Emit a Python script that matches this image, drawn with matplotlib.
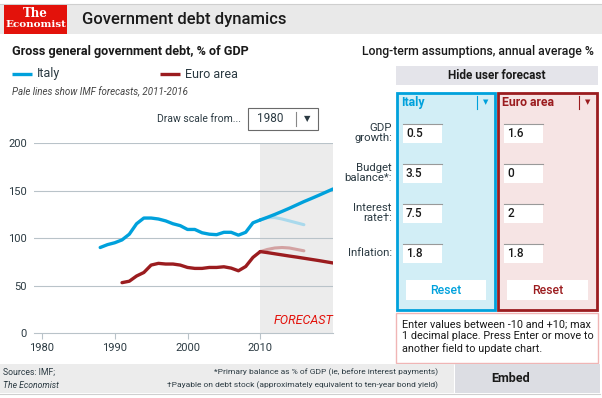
import matplotlib
matplotlib.use("Agg")
from matplotlib import pyplot as plt
from matplotlib.patches import Rectangle

plt.rcParams['font.family'] = ['Roboto', 'DejaVu Sans']

# debt, % of GDP
italy_years = list(range(1988, 2011))
italy_debt = [90, 93, 95, 98, 104, 115, 121, 121, 120, 118, 115, 113, 109,
              109, 105.5, 104, 103.5, 106, 106, 103, 106, 116, 119]
euro_years = list(range(1991, 2011))
euro_debt = [53, 54.5, 60, 63.7, 71.5, 73.3, 72.6, 72.6, 71.5, 69, 68, 68,
             69, 69, 69.7, 68.3, 65.5, 70, 79.6, 85.7]

# user forecast (2010-2020)
fc_years = list(range(2010, 2021))
italy_fc = [119, 121.8, 124.8, 128, 131.3, 134.8, 138.3, 141.5, 144.8, 148.2, 151.6]
euro_fc = [85.7, 84.6, 83.4, 82.2, 81, 79.9, 78.7, 77.5, 76.3, 75, 73.7]

# IMF forecasts (pale lines), 2010-2016
imf_years = list(range(2010, 2017))
italy_imf = [119, 121.4, 121.5, 120, 118, 116, 114]
euro_imf = [85.7, 88, 89.5, 90, 89.5, 88, 86.5]

y_ticks = [0, 50, 100, 150, 200]
x_ticks = [1980, 1990, 2000, 2010]

# assumptions panel
field_labels = ["GDP\ngrowth:", "Budget\nbalance*:", "Interest\nrate\u2020:", "Inflation:"]
italy_inputs = ["0.5", "3.5", "7.5", "1.8"]
euro_inputs = ["1.6", "0", "2", "1.8"]

BLUE = "#00a1dc"
RED = "#9b1c1f"
PALE_BLUE = "#a9d9ec"
PALE_RED = "#d3a2a2"
TXT = "#2b3a42"

fig = plt.figure(figsize=(6.02, 3.98), dpi=100)

# overlay in pixel coordinates for the page furniture
bg = fig.add_axes([0, 0, 1, 1])
bg.set_xlim(0, 602)
bg.set_ylim(398, 0)
bg.axis("off")


def box(x0, y0, x1, y1, fc, ec="none", lw=0, z=1):
    bg.add_patch(Rectangle((x0, y0), x1 - x0, y1 - y0, facecolor=fc,
                           edgecolor=ec, linewidth=lw, zorder=z))


# header
box(0, 4, 602, 34, "#e9e9e9")
bg.plot([0, 602], [4, 4], color="#cfcfcf", lw=0.8)
box(4, 5, 67, 34, "#e3120b", z=2)
bg.text(35.5, 13.5, "The", color="white", ha="center", va="center",
        fontsize=8.5, family="DejaVu Serif", fontweight="bold", zorder=3)
bg.text(35.5, 24.5, "Economist", color="white", ha="center", va="center",
        fontsize=7.5, family="DejaVu Serif", fontweight="bold", zorder=3)
bg.text(82, 19.5, "Government debt dynamics", fontsize=12, color="#1a1a1a",
        va="center", fontweight="medium")

# left titles
bg.text(12, 52, "Gross general government debt, % of GDP", fontsize=9.1,
        fontweight="bold", color="#1a1a1a", va="center")
bg.plot([12, 32], [74, 74], color=BLUE, lw=2.4, solid_capstyle="butt")
bg.text(37, 74, "Italy", fontsize=9, color=TXT, va="center")
bg.plot([160, 180], [74, 74], color=RED, lw=2.4, solid_capstyle="butt")
bg.text(185, 74, "Euro area", fontsize=9, color=TXT, va="center")
bg.text(12, 92, "Pale lines show IMF forecasts, 2011-2016", fontsize=7,
        style="italic", color="#444444", va="center")

# draw scale selector
bg.text(241, 119, "Draw scale from...", fontsize=7.5, color=TXT, ha="right",
        va="center")
box(248, 108, 318, 130, "white", ec="#6a6a6a", lw=0.8)
bg.text(270, 119, "1980", fontsize=8.5, color=TXT, ha="center", va="center")
bg.plot([296, 296], [112, 126], color="#888888", lw=0.8)
bg.text(307, 119, "\u25bc", fontsize=6, color=TXT, ha="center", va="center")

# chart
ax = fig.add_axes([34 / 602, 1 - 333 / 398, 299 / 602, 190 / 398])
ax.set_xlim(1978.9, 2020)
ax.set_ylim(0, 200)
ax.axvspan(2010, 2020, color="#ececec", zorder=0, lw=0)
for v in y_ticks[1:]:
    ax.axhline(v, color="#b9c3c9", lw=0.8, zorder=1)
ax.plot(imf_years, italy_imf, color=PALE_BLUE, lw=2.2, zorder=2,
        solid_capstyle="round")
ax.plot(imf_years, euro_imf, color=PALE_RED, lw=2.2, zorder=2,
        solid_capstyle="round")
ax.plot(italy_years, italy_debt, color=BLUE, lw=2.4, zorder=3,
        solid_capstyle="round", solid_joinstyle="round")
ax.plot(fc_years, italy_fc, color=BLUE, lw=2.4, zorder=3,
        solid_capstyle="round")
ax.plot(euro_years, euro_debt, color=RED, lw=2.4, zorder=3,
        solid_capstyle="round", solid_joinstyle="round")
ax.plot(fc_years, euro_fc, color=RED, lw=2.4, zorder=3,
        solid_capstyle="round")
ax.text(2011.8, 13, "FORECAST", color="#e3120b", style="italic",
        fontsize=9, va="center")
for s in ["top", "right", "left"]:
    ax.spines[s].set_visible(False)
ax.spines["bottom"].set_color("#b9c3c9")
ax.spines["bottom"].set_linewidth(0.8)
ax.set_xticks(x_ticks)
ax.set_yticks(y_ticks)
ax.tick_params(axis="x", length=4, width=0.8, color="#b9c3c9", labelsize=8,
               labelcolor=TXT, pad=3)
ax.tick_params(axis="y", length=0, labelsize=8, labelcolor=TXT, pad=5)
ax.set_facecolor("none")

# right panel
bg.text(594, 52, "Long-term assumptions, annual average %", fontsize=8.8,
        color="#1a1a1a", ha="right", va="center", fontweight="medium")
box(396, 66, 598, 85, "#e4e4ea")
bg.text(497, 75.5, "Hide user forecast", fontsize=8.5, fontweight="bold",
        color="#1a1a1a", ha="center", va="center")

panels = [(397, 495, BLUE, "#d2eef6", "Italy", italy_inputs),
          (498, 597, RED, "#f6e4e4", "Euro area", euro_inputs)]
field_y = [133, 173, 213, 253]
for x0, x1, col, fill, name, vals in panels:
    box(x0, 93, x1, 310, fill, ec=col, lw=2)
    bg.text(x0 + 4, 102.5, name, fontsize=8.8, fontweight="bold", color=col,
            va="center")
    bg.plot([x1 - 18, x1 - 18], [96, 109], color=col, lw=0.8)
    bg.text(x1 - 9, 103, "\u25bc", fontsize=5, color=col, ha="center",
            va="center")
    for fy, val in zip(field_y, vals):
        box(x0 + 6, fy - 9.5, x0 + 45, fy + 9.5, "white", z=2)
        bg.plot([x0 + 6, x0 + 45], [fy - 9.5, fy - 9.5], color="#999999",
                lw=0.8, zorder=3)
        bg.text(x0 + 9, fy + 0.5, val, fontsize=8.5, color="#1a1a1a",
                va="center", fontweight="medium", zorder=3)
    box(x0 + 9, 280, x1 - 9, 300, "white", z=2)
    bg.text((x0 + x1) / 2, 290, "Reset", fontsize=8.8, color=col,
            ha="center", va="center", zorder=3, fontweight="medium")

for fy, lab in zip(field_y, field_labels):
    bg.text(392, fy, lab, fontsize=8.2, color=TXT, ha="right", va="center",
            multialignment="right", linespacing=1.05)

box(396, 313, 598, 363, "white", ec="#f0b5b5", lw=1)
bg.text(402, 337, "Enter values between -10 and +10; max\n"
        "1 decimal place. Press Enter or move to\n"
        "another field to update chart.", fontsize=7.85, color="#1a1a1a",
        va="center", linespacing=1.2)

# footer
box(0, 364, 454, 393, "#ececec")
box(455, 364, 600, 393, "#dcdde3")
bg.plot([0, 600], [393.5, 393.5], color="#cfcfcf", lw=0.8)
bg.text(3, 372, "Sources: IMF;", fontsize=6.2, color=TXT, va="center")
bg.text(3, 385, "The Economist", fontsize=6.2, color=TXT, va="center",
        style="italic")
bg.text(438, 372, "*Primary balance as % of GDP (ie, before interest payments)",
        fontsize=6.0, color=TXT, va="center", ha="right")
bg.text(438, 385, "\u2020Payable on debt stock (approximately equivalent to "
        "ten-year bond yield)", fontsize=6.0, color=TXT, va="center",
        ha="right")
bg.text(511, 379, "Embed", fontsize=9, fontweight="bold", color="#1a1a1a",
        ha="center", va="center")

fig.savefig("out.png", dpi=100)
